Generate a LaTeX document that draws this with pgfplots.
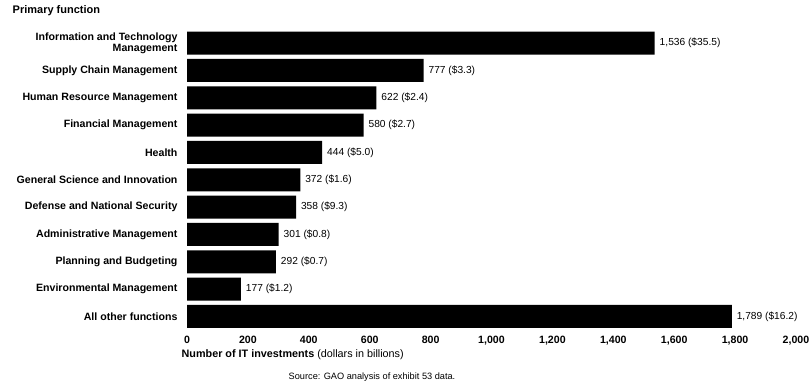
\documentclass[border=0pt]{standalone}
\usepackage{pgfplots}
\pgfplotsset{compat=1.18}
\usepackage{pgfplotstable}
\usepackage{fontspec}
\setmainfont{Liberation Sans}
\pgfplotstableread{
idx n d
0 1536 35.5
1 777 3.3
2 622 2.4
3 580 2.7
4 444 5.0
5 372 1.6
6 358 9.3
7 301 0.8
8 292 0.7
9 177 1.2
10 1789 16.2
}\datatable
\begin{document}
\begin{tikzpicture}
\path[use as bounding box] (0,0) rectangle (809pt,-385pt);
\node[anchor=west,font=\fontsize{11}{12}\selectfont\bfseries,inner sep=0] at (12.5pt,-11pt) {Primary function};
\begin{axis}[
  at={(187pt,-29.5pt)}, anchor=north west,
  scale only axis, width=609pt, height=300.6pt,
  xmin=0, xmax=2000, ymin=-0.5, ymax=10.5, y dir=reverse,
  enlargelimits=false, clip=false,
  axis line style={draw=none}, major tick length=0,
  xtick={0,200,...,2000}, ytick={0,...,10},
  yticklabels={{Information and Technology\\Management},Supply Chain Management,Human Resource Management,Financial Management,Health,General Science and Innovation,Defense and National Security,Administrative Management,Planning and Budgeting,Environmental Management,All other functions},
  /pgf/number format/assume math mode=true,
  /pgf/number format/1000 sep={,},
  xticklabel style={font=\fontsize{10.6}{12}\selectfont\bfseries, yshift=-2.5pt},
  yticklabel style={font=\fontsize{10.6}{11.5}\selectfont\bfseries, align=right, xshift=-6pt},
]
\addplot[xbar, fill=black, draw=none, bar width=23pt, point meta=x,
  visualization depends on={\thisrow{d}\as\dollar},
  nodes near coords={\pgfmathprintnumber[fixed,precision=0,1000 sep={,}]{\pgfplotspointmeta}~(\$\pgfmathprintnumber[fixed,precision=1,fixed zerofill]{\dollar})},
  nodes near coords style={font=\fontsize{10.2}{11}\selectfont, anchor=west, xshift=1.5pt}]
  table[x=n,y=idx]{\datatable};
\end{axis}
\node[anchor=west,inner sep=0,font=\fontsize{10.8}{12}\selectfont] at (181.5pt,-355pt) {\textbf{Number of IT investments} (dollars in billions)};
\node[inner sep=0,font=\fontsize{9.2}{11}\selectfont] at (372pt,-377pt) {Source: GAO analysis of exhibit 53 data.};
\end{tikzpicture}
\end{document}
